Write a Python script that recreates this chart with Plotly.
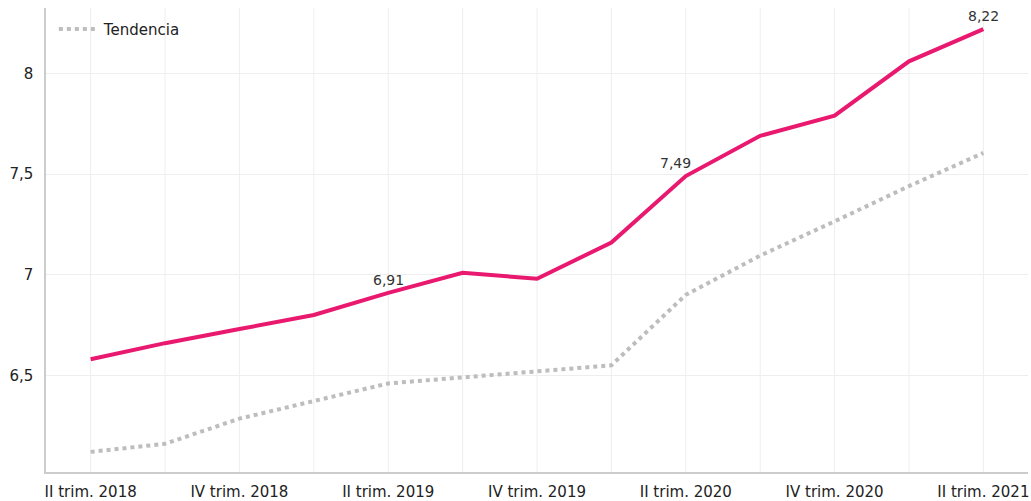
import plotly.graph_objects as go

categories = ["II trim. 2018", "III trim. 2018", "IV trim. 2018", "I trim. 2019",
              "II trim. 2019", "III trim. 2019", "IV trim. 2019", "I trim. 2020",
              "II trim. 2020", "III trim. 2020", "IV trim. 2020", "I trim. 2021",
              "II trim. 2021"]
valores = [6.58, 6.66, 6.73, 6.80, 6.91, 7.01, 6.98, 7.16, 7.49, 7.69, 7.79, 8.06, 8.22]
tendencia = [6.12, 6.16, 6.285, 6.375, 6.46, 6.49, 6.52, 6.55, 6.90, 7.095, 7.265, 7.44, 7.605]
etiquetas_idx = [4, 8, 12]
tick_labels = categories[::2]

fig = go.Figure()
fig.add_trace(go.Scatter(x=list(range(len(categories))), y=tendencia, mode="lines",
                         name="Tendencia",
                         line=dict(color="#bdbdbd", width=4, dash="dot"),
                         showlegend=True))
fig.add_trace(go.Scatter(x=list(range(len(categories))), y=valores, mode="lines",
                         name="Valor",
                         line=dict(color="#e8196f", width=4),
                         showlegend=False))

for i in etiquetas_idx:
    fig.add_annotation(x=i, y=valores[i], text=f"{valores[i]:.2f}".replace(".", ","),
                       showarrow=False, yshift=13, xshift=-10 if i == 8 else 0,
                       font=dict(size=14, color="#333333"))

fig.update_layout(
    width=1031, height=501,
    margin=dict(l=46, r=3, t=8, b=29),
    plot_bgcolor="white", paper_bgcolor="white",
    separators=",.",
    font=dict(family="DejaVu Sans", size=15, color="#222222"),
    legend=dict(x=0.008, y=0.99, xanchor="left", yanchor="top", itemwidth=40,
                bgcolor="rgba(0,0,0,0)", font=dict(size=15)),
    xaxis=dict(range=[-0.6, 12.6], tickmode="array", automargin=False,
               tickvals=list(range(0, len(categories), 2)), ticktext=tick_labels,
               showgrid=False, showline=True, linecolor="#cccccc", linewidth=1.5,
               ticks="", zeroline=False, ticklabelstandoff=5),
    yaxis=dict(range=[6.02, 8.325], tickvals=[6.5, 7, 7.5, 8], automargin=False,
               showgrid=True, gridcolor="#eeeeee", showline=True,
               linecolor="#cccccc", linewidth=1.5, ticks="", zeroline=False,
               ticklabelstandoff=8),
)
for i in range(len(categories)):
    fig.add_vline(x=i, line=dict(color="#eeeeee", width=1), layer="below")

fig.write_html("out.html", config={"displayModeBar": False},
               post_script="document.body.style.margin='0';document.body.style.overflow='hidden';")
